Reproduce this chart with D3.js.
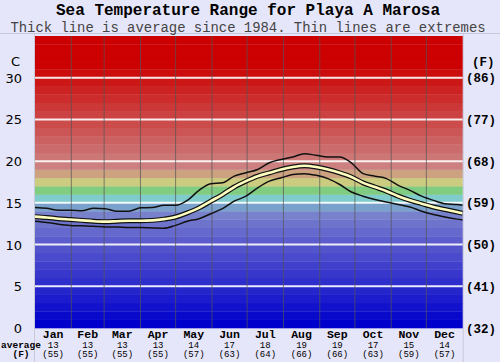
<!DOCTYPE html>
<html><head><meta charset="utf-8">
<script src="https://cdn.jsdelivr.net/npm/d3@7"></script>
<style>
html,body{margin:0;padding:0;background:#e6e6fa;}
svg{display:block;}
</style></head>
<body>
<svg id="chart" width="500" height="362"></svg>
<script>
// ---- data ----
const sampleDays = [0,10,20,30,40,50,60,70,80,90,100,110,120,130,140,150,160,170,180,190,200,210,220,230,240,250,260,270,280,290,300,310,320,330,340,350,360,365];
const avgTemp = [13.35,13.25,13.1,13.0,12.9,12.8,12.75,12.8,12.85,12.85,12.9,13.05,13.3,13.8,14.4,15.2,16.0,16.9,17.6,18.2,18.6,19.0,19.3,19.45,19.3,19.0,18.6,18.1,17.4,16.9,16.4,15.8,15.3,14.9,14.5,14.2,13.9,13.75];
const maxTemp = [14.45,14.35,14.1,14.1,14.05,14.35,14.3,14.0,14.0,14.4,14.45,14.7,14.7,15.3,16.5,17.3,17.4,18.2,18.6,19.0,19.8,20.2,20.5,20.9,20.7,20.5,20.5,19.8,18.5,18.2,17.9,17.1,16.5,15.8,15.3,14.9,14.8,14.7];
const minTemp = [12.8,12.65,12.45,12.3,12.25,12.2,12.1,12.1,12.05,12.05,12.0,11.95,12.3,12.8,13.1,13.7,14.3,15.2,15.8,16.8,17.6,18.0,18.4,18.5,18.3,17.9,17.2,16.3,15.8,15.4,15.1,14.8,14.5,14.0,13.6,13.3,13.05,12.95];
const months = ["Jan","Feb","Mar","Apr","May","Jun","Jul","Aug","Sep","Oct","Nov","Dec"];
const monthDays = [31,28,31,30,31,30,31,31,30,31,30,31];
const monthAvgC = [13,13,13,13,14,17,18,19,19,17,15,14];
const monthAvgF = [55,55,55,55,57,63,64,66,66,63,59,57];
const cTicks = [0,5,10,15,20,25,30];
const fTicks = [32,41,50,59,68,77,86];

// ---- layout ----
const svg = d3.select("#chart");
const L = 35, R = 462.7, T = 36, B = 328;
const x = d3.scaleLinear().domain([0,365]).range([L,R]);
const y = d3.scaleLinear().domain([0,35]).range([B,T]);

function bandColor(t){
  if (t >= 20){ const g = Math.max(0, Math.round(128 - (t-19)*10.5)); return d3.rgb(204,g,g); }
  const mid = {19:[204,128,128],18:[204,162,128],17:[204,204,128],16:[128,204,128],15:[128,204,204],14:[122,160,204]};
  if (mid[t]) return d3.rgb(...mid[t]);
  const v = Math.round(t*9.2);
  return d3.rgb(v, v+ (t>=11? (t-10)*3:0), 204);
}

// frame lines
svg.append("line").attr("x1",0).attr("x2",500).attr("y1",33.5).attr("y2",33.5).attr("stroke","#c8c8d8");
svg.append("line").attr("x1",L-0.5).attr("x2",L-0.5).attr("y1",33).attr("y2",362).attr("stroke","#c8c8d8");
svg.append("line").attr("x1",R+0.5).attr("x2",R+0.5).attr("y1",33).attr("y2",362).attr("stroke","#c8c8d8");

// background bands, 1 degree each
const bands = d3.range(0,35);
svg.append("g").selectAll("rect").data(bands).join("rect")
  .attr("x",L).attr("width",R-L)
  .attr("y",d=>y(d+1)).attr("height",d=>y(d)-y(d+1)+0.3)
  .attr("fill",d=>bandColor(d));

// white gridlines
svg.append("g").selectAll("line").data(cTicks.filter(d=>d>0)).join("line")
  .attr("x1",L).attr("x2",R).attr("y1",d=>y(d)).attr("y2",d=>y(d))
  .attr("stroke","#ffffff").attr("stroke-width",2).attr("opacity",0.9);

// month boundaries
const cum = [0]; monthDays.forEach((d,i)=>cum.push(cum[i]+d));
svg.append("g").selectAll("line").data(cum.slice(1,12)).join("line")
  .attr("x1",d=>x(d)).attr("x2",d=>x(d)).attr("y1",T).attr("y2",B)
  .attr("stroke","#555").attr("stroke-width",1).attr("opacity",0.7);

// lines
svg.append("clipPath").attr("id","pc").append("rect").attr("x",L).attr("y",T).attr("width",R-L).attr("height",B-T);
const g = svg.append("g").attr("clip-path","url(#pc)");
const mk = arr => d3.line().x((d,i)=>x(sampleDays[i])).y(d=>y(d)).curve(d3.curveMonotoneX)(arr);
g.append("path").attr("d",mk(maxTemp)).attr("fill","none").attr("stroke","#111").attr("stroke-width",1.5);
g.append("path").attr("d",mk(minTemp)).attr("fill","none").attr("stroke","#111").attr("stroke-width",1.5);
g.append("path").attr("d",mk(avgTemp)).attr("fill","none").attr("stroke","#111").attr("stroke-width",5);
g.append("path").attr("d",mk(avgTemp)).attr("fill","none").attr("stroke","#ffffc0").attr("stroke-width",2.6);

const mono = "'Liberation Mono', 'Courier New', monospace";
// titles
svg.append("text").attr("x",248).attr("y",15).attr("text-anchor","middle")
  .attr("font-family",mono).attr("font-weight","bold").attr("font-size",16)
  .attr("fill","#000").text("Sea Temperature Range for Playa A Marosa");
svg.append("text").attr("x",248).attr("y",31.5).attr("text-anchor","middle")
  .attr("font-family",mono).attr("font-size",13.9)
  .attr("fill","#444").text("Thick line is average since 1984. Thin lines are extremes");

// left axis
const ax = svg.append("g").attr("font-family","'DejaVu Sans', sans-serif").attr("font-size",13).attr("fill","#000");
ax.selectAll("text.c").data(cTicks).join("text").attr("class","c")
  .attr("x",22).attr("y",d=>y(d)+5).attr("text-anchor","end").text(d=>d);
ax.append("text").attr("x",20).attr("y",66).attr("text-anchor","end").text("C");

// right axis
const fx = svg.append("g").attr("font-family",mono).attr("font-weight","bold").attr("font-size",12.5).attr("fill","#000");
fx.selectAll("text").data(fTicks).join("text")
  .attr("x",466).attr("y",(d,i)=>y(cTicks[i])+4.5).text(d=>"("+d+")");
fx.append("text").attr("x",472).attr("y",66).text("(F)");

// bottom labels
const mids = months.map((m,i)=>x((cum[i]+cum[i+1])/2));
const bl = svg.append("g").attr("font-family",mono).attr("fill","#000").attr("text-anchor","middle");
bl.selectAll("text.m").data(months).join("text").attr("class","m")
  .attr("x",(d,i)=>mids[i]).attr("y",337.5).attr("font-weight","bold").attr("font-size",11.5).text(d=>d);
bl.selectAll("text.c").data(monthAvgC).join("text").attr("class","c")
  .attr("x",(d,i)=>mids[i]).attr("y",347.5).attr("font-size",9).text(d=>d);
bl.selectAll("text.f").data(monthAvgF).join("text").attr("class","f")
  .attr("x",(d,i)=>mids[i]).attr("y",357).attr("font-size",9).text(d=>"("+d+")");
bl.append("text").attr("x",21).attr("y",347.5).attr("font-weight","bold").attr("font-size",9.5).text("average");
bl.append("text").attr("x",21).attr("y",357).attr("font-weight","bold").attr("font-size",9.5).text("(F)");
</script>
</body></html>
